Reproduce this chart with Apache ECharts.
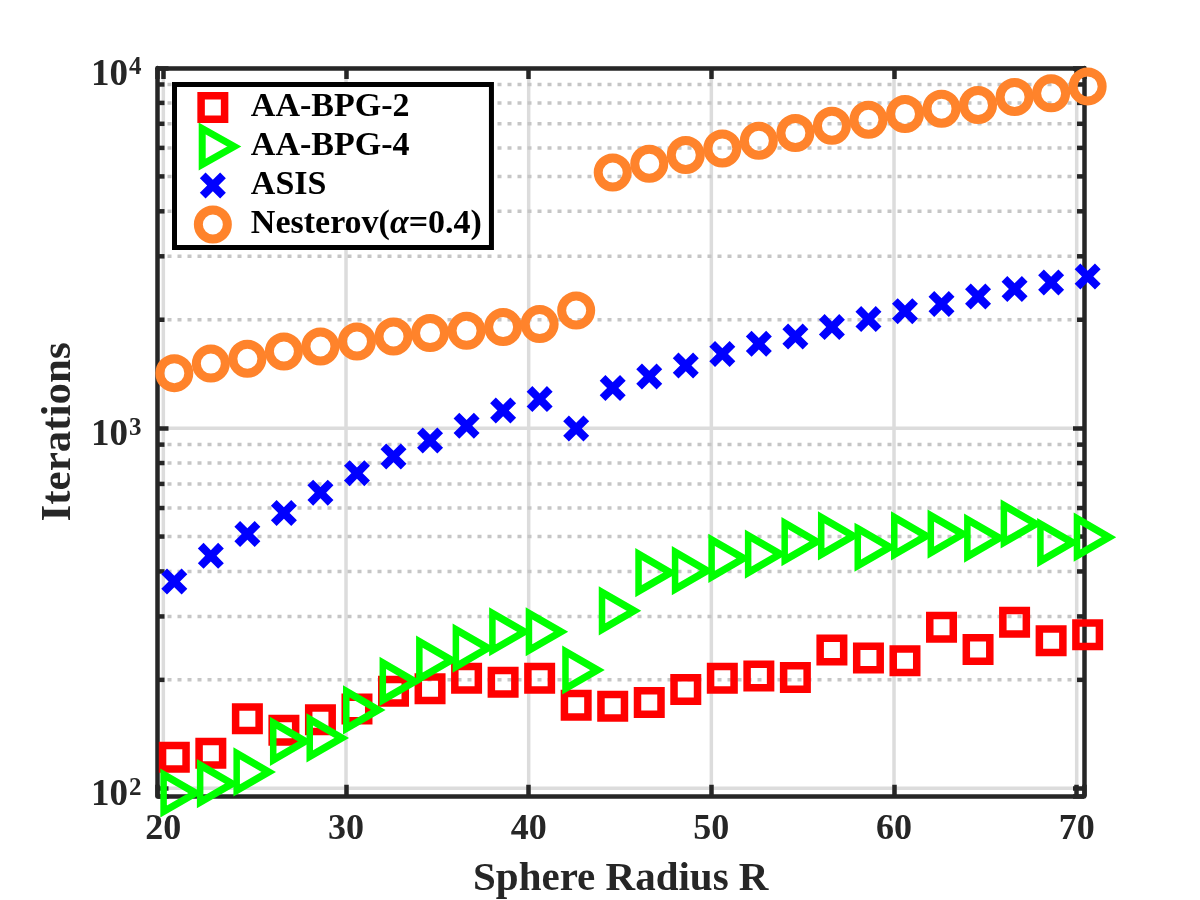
<!DOCTYPE html>
<html>
<head>
<meta charset="utf-8">
<script src="https://cdn.jsdelivr.net/npm/echarts@6/dist/echarts.min.js"></script>
<style>
  html, body { margin: 0; background: #fff; }
  #chart { width: 1200px; height: 900px; }
</style>
</head>
<body>
<div id="chart"></div>
<script>
// x positions of the runs (sphere radius)
const radius = [20.6, 22.6, 24.6, 26.6, 28.6, 30.6, 32.6, 34.6, 36.6, 38.6, 40.6, 42.6, 44.6,
  46.6, 48.6, 50.6, 52.6, 54.6, 56.6, 58.6, 60.6, 62.6, 64.6, 66.6, 68.6, 70.6];

// iterations
const aaBpg2 = [122, 125, 156, 145, 155, 166, 186, 189, 202, 197, 202, 170, 169,
  173, 188, 202, 205, 203, 242, 230, 226, 280, 243, 289, 257, 267];
const aaBpg4 = [97, 103, 111, 135, 138, 165, 198, 227, 245, 272, 272, 213, 311,
  397, 402, 435, 447, 484, 502, 467, 502, 508, 495, 542, 481, 498];
const asis = [375, 442, 508, 581, 662, 750, 834, 924, 1015, 1119, 1204, 998, 1292,
  1391, 1493, 1606, 1715, 1797, 1908, 2008, 2113, 2211, 2321, 2433, 2538, 2637];
const nesterov = [1421, 1511, 1558, 1632, 1685, 1740, 1797, 1836, 1863, 1908, 1945, 2122, 5128,
  5423, 5734, 5979, 6281, 6598, 6914, 7184, 7452, 7709, 7895, 8310, 8503, 8891];

const seriesNames = ['AA-BPG-2', 'AA-BPG-4', 'ASIS', 'Nesterov(\u03b1=0.4)'];

const xTicks = [20, 30, 40, 50, 60, 70];
const yTicks = [100, 1000, 10000];
const yMinorTicks = [200, 300, 400, 500, 600, 700, 800, 900,
  2000, 3000, 4000, 5000, 6000, 7000, 8000, 9000];
const xRange = [19.68, 70.4];
const yRange = [95.3, 10000];

const FONT = "'Liberation Serif', 'Times New Roman', serif";
const INK = '#262626';
const FRAME_W = 4.5;

// marker shapes
const triPath = 'path://M0,0 L32,18.5 L0,37 Z';
const crossPath = 'path://M0,5.7 L5.7,0 L13,7.3 L20.3,0 L26,5.7 L18.7,13 L26,20.3 L20.3,26 L13,18.7 L5.7,26 L0,20.3 L7.3,13 Z';
// legend icons, padded to a 36 box so they keep the marker sizes
const legSquare = 'path://M0,0 M36,36 M6.25,6.25 L29.75,6.25 L29.75,29.75 L6.25,29.75 Z';
const legTri = 'path://M0,0 M0,36 M10.7,0 L42.7,18 L10.7,36 Z';
const legCross = 'path://M0,0 M36,36 M5,10.7 L10.7,5 L18,12.3 L25.3,5 L31,10.7 L23.7,18 L31,25.3 L25.3,31 L18,23.7 L10.7,31 L5,25.3 L12.3,18 Z';
const legCircle = 'path://M0,0 M36,36 M32.5,18 A14.5,14.5 0 1 1 3.5,18 A14.5,14.5 0 1 1 32.5,18 Z';

const chart = echarts.init(document.getElementById('chart'));

function pairs(ys) {
  return radius.map((r, i) => [r, ys[i]]);
}

const frameAxis = {
  z: 1,
  axisLine: { show: true, lineStyle: { color: INK, width: FRAME_W } },
  axisTick: { show: true, inside: true, length: 11, lineStyle: { color: INK, width: FRAME_W } },
  splitLine: { show: false },
  minorTick: { show: false }
};

const option = {
  animation: false,
  backgroundColor: '#fff',
  grid: { left: 157.5, right: 116, top: 68, bottom: 104.2, containLabel: false, outerBoundsMode: 'none' },
  legend: {
    orient: 'vertical',
    left: 174.5,
    top: 84.5,
    // rows are 46 tall (text line height) and overlap by 7 -> 39 px pitch
    padding: [0, 9.5, 0, 13.5],
    itemWidth: 44,
    itemHeight: 36,
    itemGap: -7,
    backgroundColor: '#fff',
    borderColor: '#000',
    borderWidth: 5,
    borderRadius: 0,
    selectedMode: false,
    symbolKeepAspect: true,
    textStyle: {
      fontFamily: FONT, fontWeight: 'bold', fontSize: 34, lineHeight: 46, color: '#000',
      padding: [0, 0, 0, 11],
      rich: {
        a: { fontFamily: FONT, fontWeight: 'bold', fontStyle: 'italic', fontSize: 34, lineHeight: 46, color: '#000' }
      }
    },
    formatter: name => name.replace('\u03b1', '{a|\u03b1}'),
    data: [
      { name: seriesNames[0], icon: legSquare,
        itemStyle: { color: 'rgba(0,0,0,0)', borderColor: '#ff0000', borderWidth: 7.5 } },
      { name: seriesNames[1], icon: legTri,
        itemStyle: { color: 'rgba(0,0,0,0)', borderColor: '#00ff00', borderWidth: 7, borderJoin: 'miter', borderMiterLimit: 10 } },
      { name: seriesNames[2], icon: legCross,
        itemStyle: { color: '#0000ff', borderWidth: 0 } },
      { name: seriesNames[3], icon: legCircle,
        itemStyle: { color: 'rgba(0,0,0,0)', borderColor: '#ff832b', borderWidth: 9 } }
    ]
  },
  xAxis: [
    Object.assign({}, frameAxis, {
      type: 'value', position: 'bottom', min: xRange[0], max: xRange[1],
      name: 'Sphere Radius R', nameLocation: 'middle', nameGap: 63,
      nameTextStyle: { fontFamily: FONT, fontWeight: 'bold', fontSize: 41, color: INK },
      axisLabel: {
        show: true, margin: 16,
        fontFamily: FONT, fontWeight: 'bold', fontSize: 36, color: INK,
        formatter: v => (xTicks.indexOf(v) >= 0 ? String(v) : '')
      }
    }),
    Object.assign({}, frameAxis, {
      type: 'value', position: 'top', min: xRange[0], max: xRange[1],
      axisLabel: { show: false }
    })
  ],
  yAxis: [
    Object.assign({}, frameAxis, {
      type: 'log', logBase: 10, position: 'left', min: yRange[0], max: yRange[1],
      name: 'Iterations', nameLocation: 'middle', nameGap: 57, nameRotate: 90,
      nameTextStyle: { fontFamily: FONT, fontWeight: 'bold', fontSize: 43, color: INK },
      axisLabel: {
        show: true, margin: 16,
        formatter: v => {
          const i = yTicks.findIndex(t => Math.abs(t - v) < 1e-6 * t);
          if (i < 0) return '';
          return '{b|10}{s|' + Math.round(Math.log10(yTicks[i])) + '}';
        },
        rich: {
          b: { fontFamily: FONT, fontWeight: 'bold', fontSize: 37, lineHeight: 37, color: INK, padding: [14, 0, 0, 0] },
          s: { fontFamily: FONT, fontWeight: 'bold', fontSize: 25, lineHeight: 25, color: INK, verticalAlign: 'top', padding: [6, 0, 0, 1] }
        }
      }
    }),
    Object.assign({}, frameAxis, {
      type: 'log', logBase: 10, position: 'right', min: yRange[0], max: yRange[1],
      axisLabel: { show: false }
    })
  ],
  series: [
    // vertical grid lines
    {
      type: 'custom', z: 0, silent: true,
      data: xTicks.map(v => [v, yRange[1]]),
      renderItem: (params, api) => {
        const cs = params.coordSys;
        const px = api.coord([api.value(0), api.value(1)])[0];
        return {
          type: 'line',
          shape: { x1: px, y1: cs.y, x2: px, y2: cs.y + cs.height },
          style: { stroke: '#dcdcdc', lineWidth: 3.5 }
        };
      }
    },
    // major horizontal grid lines
    {
      type: 'custom', z: 0, silent: true,
      data: yTicks.map(v => [xTicks[0], v]),
      renderItem: (params, api) => {
        const cs = params.coordSys;
        const py = api.coord([api.value(0), api.value(1)])[1];
        return {
          type: 'line',
          shape: { x1: cs.x, y1: py, x2: cs.x + cs.width, y2: py },
          style: { stroke: '#dcdcdc', lineWidth: 3.5 }
        };
      }
    },
    // minor horizontal grid lines with minor ticks on both sides
    {
      type: 'custom', z: 0, silent: true,
      data: yMinorTicks.map(v => [xTicks[0], v]),
      renderItem: (params, api) => {
        const cs = params.coordSys;
        const py = api.coord([api.value(0), api.value(1)])[1];
        return {
          type: 'group',
          children: [
            { type: 'line', shape: { x1: cs.x, y1: py, x2: cs.x + cs.width, y2: py },
              style: { stroke: '#c6c6c6', lineWidth: 3.5, lineDash: [4, 6] } },
            { type: 'line', shape: { x1: cs.x, y1: py, x2: cs.x + 7, y2: py },
              style: { stroke: INK, lineWidth: FRAME_W } },
            { type: 'line', shape: { x1: cs.x + cs.width - 7, y1: py, x2: cs.x + cs.width, y2: py },
              style: { stroke: INK, lineWidth: FRAME_W } }
          ]
        };
      }
    },
    {
      name: seriesNames[0], type: 'scatter', data: pairs(aaBpg2), clip: false,
      symbol: 'rect', symbolSize: 23.5,
      itemStyle: { color: 'rgba(0,0,0,0)', borderColor: '#ff0000', borderWidth: 7.5, opacity: 1 }
    },
    {
      name: seriesNames[1], type: 'scatter', data: pairs(aaBpg4), clip: false,
      symbol: triPath, symbolSize: [32, 37], symbolOffset: [5.3, 0],
      itemStyle: { color: 'rgba(0,0,0,0)', borderColor: '#00ff00', borderWidth: 7, borderJoin: 'miter', borderMiterLimit: 10, opacity: 1 }
    },
    {
      name: seriesNames[2], type: 'scatter', data: pairs(asis), clip: false,
      symbol: crossPath, symbolSize: 26,
      itemStyle: { color: '#0000ff', borderWidth: 0, opacity: 1 }
    },
    {
      name: seriesNames[3], type: 'scatter', data: pairs(nesterov), clip: false,
      symbol: 'circle', symbolSize: 29,
      itemStyle: { color: 'rgba(0,0,0,0)', borderColor: '#ff832b', borderWidth: 9, opacity: 1 }
    }
  ]
};

chart.setOption(option);
</script>
</body>
</html>
